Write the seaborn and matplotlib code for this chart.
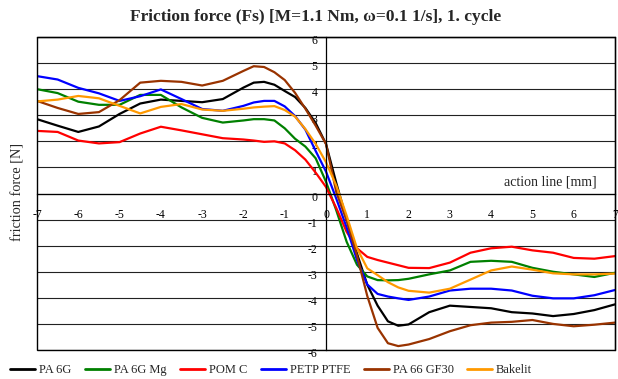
import matplotlib
matplotlib.use("Agg")
import matplotlib.pyplot as plt
from matplotlib.patches import Rectangle
from matplotlib.ticker import MultipleLocator
from matplotlib.transforms import ScaledTranslation
import numpy as np
import pandas as pd
import seaborn as sns

# Position along the action line [mm]
position = [-7, -6.5, -6, -5.5, -5, -4.5, -4, -3.5, -3, -2.5, -2, -1.75, -1.5,
            -1.25, -1, -0.75, -0.5, -0.25, 0, 0.25, 0.5, 0.75, 1, 1.25, 1.5,
            1.75, 2, 2.5, 3, 3.5, 4, 4.5, 5, 5.5, 6, 6.5, 7]

# Friction force [N] per material
pa_6g = [2.85, 2.6, 2.36, 2.57, 3.05, 3.45, 3.6, 3.55, 3.5, 3.62, 4.06, 4.25,
         4.28, 4.17, 3.93, 3.7, 3.28, 2.7, 1.9, 0.4, -1.0, -2.3, -3.5, -4.3,
         -4.9, -5.07, -5.02, -4.55, -4.3, -4.35, -4.4, -4.55, -4.6, -4.7,
         -4.62, -4.47, -4.25]
pa_6g_mg = [4.0, 3.85, 3.52, 3.4, 3.4, 3.78, 3.78, 3.3, 2.9, 2.72, 2.8, 2.85,
            2.85, 2.8, 2.5, 2.1, 1.8, 1.35, 0.45, -0.65, -1.85, -2.73, -3.18,
            -3.32, -3.33, -3.32, -3.27, -3.1, -2.95, -2.62, -2.58, -2.62,
            -2.85, -3.0, -3.1, -3.2, -3.04]
pom_c = [2.4, 2.36, 2.03, 1.92, 1.97, 2.3, 2.56, 2.42, 2.27, 2.12, 2.07, 2.03,
         1.98, 2.0, 1.92, 1.66, 1.3, 0.8, 0.25, -0.56, -1.47, -2.1, -2.43,
         -2.55, -2.65, -2.75, -2.85, -2.86, -2.65, -2.27, -2.1, -2.04, -2.18,
         -2.27, -2.47, -2.5, -2.4]
petp_ptfe = [4.5, 4.37, 4.05, 3.84, 3.55, 3.73, 3.99, 3.62, 3.24, 3.17, 3.36,
             3.49, 3.55, 3.55, 3.34, 2.97, 2.45, 1.63, 0.84, -0.2, -1.3, -2.55,
             -3.49, -3.85, -3.95, -4.02, -4.08, -3.95, -3.72, -3.65, -3.65,
             -3.72, -3.92, -4.02, -4.02, -3.9, -3.7]
pa_66_gf30 = [3.55, 3.28, 3.05, 3.12, 3.58, 4.25, 4.32, 4.28, 4.14, 4.32, 4.7,
              4.88, 4.85, 4.65, 4.35, 3.86, 3.25, 2.6, 1.9, 0.05, -1.03, -2.38,
              -3.93, -5.15, -5.74, -5.85, -5.79, -5.58, -5.28, -5.05, -4.95,
              -4.92, -4.85, -5.0, -5.09, -5.03, -4.95]
bakelit = [3.53, 3.6, 3.74, 3.65, 3.36, 3.07, 3.32, 3.43, 3.22, 3.17, 3.25,
           3.3, 3.33, 3.35, 3.2, 2.95, 2.47, 1.9, 1.2, 0.3, -0.85, -2.1, -2.87,
           -3.13, -3.4, -3.6, -3.73, -3.8, -3.65, -3.3, -2.95, -2.8, -2.92,
           -3.06, -3.1, -3.1, -3.07]

materials = ["PA 6G", "PA 6G Mg", "POM C", "PETP PTFE", "PA 66 GF30", "Bakelit"]
series = [pa_6g, pa_6g_mg, pom_c, petp_ptfe, pa_66_gf30, bakelit]
colors = ["#000000", "#008000", "#FF0000", "#0000FF", "#993300", "#FF9900"]

df = pd.concat(
    [pd.DataFrame({"position": position, "force": vals, "material": name})
     for name, vals in zip(materials, series)],
    ignore_index=True,
)

sns.set_style("white")
plt.rcParams["font.family"] = ["Liberation Serif", "DejaVu Serif"]

fig = plt.figure(figsize=(6.18, 3.79), dpi=100)
ax = fig.add_axes([37 / 618, 1 - 350 / 379, 578 / 618, 313 / 379])

sns.lineplot(data=df, x="position", y="force", hue="material",
             hue_order=materials, palette=dict(zip(materials, colors)),
             estimator=None, sort=False, linewidth=1.6, ax=ax, legend=True)

ax.set_xlim(-7, 7)
ax.set_ylim(-6, 6)
ax.set_xlabel("")
ax.set_ylabel("")

# Axes crossing at the origin, with an outer frame around the plot area
ax.spines["left"].set_position(("data", 0))
ax.spines["bottom"].set_position(("data", 0))
for sp in ax.spines.values():
    sp.set_color("black")
    sp.set_linewidth(0.9)
ax.add_patch(Rectangle((0, 0), 1, 1, transform=ax.transAxes, fill=False,
                       edgecolor="black", linewidth=1.0, clip_on=False,
                       zorder=3))

ax.xaxis.set_major_locator(MultipleLocator(1))
ax.xaxis.set_minor_locator(MultipleLocator(0.5))
ax.yaxis.set_major_locator(MultipleLocator(1))
ax.yaxis.set_minor_locator(MultipleLocator(0.5))
ax.tick_params(axis="both", which="both", direction="out", length=3,
               width=0.8, color="black", labelsize=8.5, labelcolor="black")
ax.tick_params(axis="x", which="major", pad=8)
ax.tick_params(axis="y", which="major", pad=3)
ax.set_xticklabels([f"{int(v)}" for v in ax.get_xticks()])
ax.set_yticklabels([f"{int(v)}" for v in ax.get_yticks()])

# Drop the y labels a little so their minus signs clear the gridlines
shift = ScaledTranslation(0, -2 / 72, fig.dpi_scale_trans)
for lbl in ax.get_yticklabels():
    lbl.set_transform(lbl.get_transform() + shift)

ax.yaxis.grid(True, which="major", color="#222222", linewidth=0.8)
ax.xaxis.grid(False)
ax.set_axisbelow(True)

ax.text(6.56, 0.45, "action line [mm]", ha="right", va="center", fontsize=10)
fig.text(18 / 618, 1 - 192 / 379, "friction force [N]", rotation=90,
         ha="center", va="center", fontsize=10.3)
fig.text(316 / 618, 1 - 17 / 379,
         "Friction force (Fs) [M=1.1 Nm, \u03c9=0.1 1/s], 1. cycle",
         ha="center", va="center", fontsize=12.5, fontweight="bold")

handles, labels = ax.get_legend_handles_labels()
ax.get_legend().remove()
for h in handles:
    h.set_linewidth(2)
fig.legend(handles, labels, loc="center left",
           bbox_to_anchor=(10 / 618, 1 - 370 / 379), ncol=6, frameon=False,
           fontsize=9, handlelength=2.0, handletextpad=0.3,
           columnspacing=1.1, borderaxespad=0, borderpad=0)

fig.savefig("out.png", dpi=100)
